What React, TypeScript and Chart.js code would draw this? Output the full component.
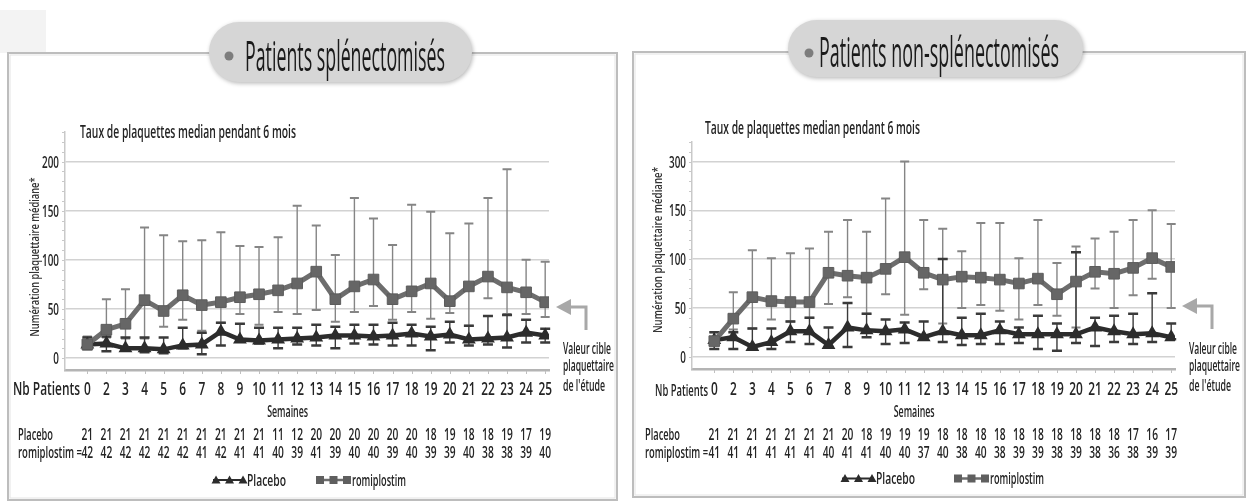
import React, { useEffect, useRef } from "react";
import { Chart, registerables } from "chart.js";
Chart.register(...registerables);

// ---------- DATA ----------
const WEEKS = ["0", "2", "3", "4", "5", "6", "7", "8", "9", "10", "11", "12", "13", "14", "15", "16", "17", "18", "19", "20", "21", "22", "23", "24", "25"];
const Y_TICKS = [0, 50, 100, 150, 200];
const LEFT_Y_LABELS = ["0", "50", "100", "150", "200"];
const RIGHT_Y_LABELS = ["0", "50", "100", "150", "300"];
const TARGET = 50;

// Patients splénectomisés
const SPL_ROMI = [14, 29, 35, 59, 48, 64, 54, 57, 62, 65, 69, 76, 88, 60, 73, 80, 60, 68, 76, 58, 73, 83, 72, 67, 57];
const SPL_ROMI_HI = [22, 60, 70, 133, 125, 119, 120, 128, 114, 113, 123, 155, 135, 105, 163, 142, 115, 156, 149, 127, 137, 163, 192, 100, 98];
const SPL_ROMI_LO = [10, 21, 20, 20, 32, 39, 28, 36, 45, 34, 47, 45, 49, 37, 47, 53, 39, 47, 40, 46, 33, 61, 45, 45, 42];
const SPL_PBO = [14, 15, 10, 10, 9, 13, 14, 27, 19, 18, 19, 20, 21, 23, 23, 22, 23, 25, 22, 24, 19, 20, 21, 26, 23];
const SPL_PBO_HI = [21, 22, 21, 21, 21, 31, 26, 36, 35, 31, 31, 31, 34, 32, 34, 34, 36, 34, 32, 37, 33, 43, 44, 39, 30];
const SPL_PBO_LO = [9, 7, 9, 6, 5, 10, 4, 13, 17, 15, 10, 14, 13, 10, 15, 14, 13, 13, 8, 16, 13, 14, 11, 16, 16];
const SPL_N_PBO = [21, 21, 21, 21, 21, 21, 21, 21, 21, 21, 11, 12, 20, 20, 20, 20, 20, 20, 18, 19, 18, 18, 19, 17, 19];
const SPL_N_ROMI = [42, 42, 42, 42, 42, 42, 41, 42, 41, 41, 40, 39, 41, 39, 40, 40, 39, 40, 39, 39, 40, 38, 38, 39, 40];

// Patients non-splénectomisés
const NSPL_ROMI = [16, 39, 61, 57, 56, 56, 86, 83, 81, 90, 102, 86, 79, 82, 81, 79, 75, 80, 64, 77, 87, 85, 91, 101, 92];
const NSPL_ROMI_HI = [25, 66, 109, 101, 106, 111, 128, 140, 128, 162, 200, 140, 131, 108, 137, 137, 101, 140, 96, 113, 121, 128, 140, 150, 136];
const NSPL_ROMI_LO = [8, 28, 29, 38, 36, 40, 54, 61, 44, 64, 43, 69, 34, 50, 53, 47, 38, 53, 42, 30, 70, 50, 63, 80, 50];
const NSPL_PBO = [17, 20, 10, 15, 26, 26, 12, 30, 27, 26, 28, 20, 26, 22, 22, 27, 23, 23, 23, 23, 30, 26, 23, 24, 20];
const NSPL_PBO_HI = [25, 25, 29, 29, 36, 40, 30, 55, 44, 38, 35, 36, 100, 40, 44, 36, 30, 42, 34, 107, 40, 42, 44, 65, 34];
const NSPL_PBO_LO = [8, 8, 8, 8, 15, 13, 10, 10, 20, 13, 14, 19, 15, 12, 13, 13, 14, 8, 6, 14, 11, 15, 13, 15, 18];
const NSPL_N_PBO = [21, 21, 21, 21, 21, 21, 21, 20, 18, 19, 19, 19, 18, 18, 18, 18, 18, 18, 18, 18, 18, 18, 17, 16, 17];
const NSPL_N_ROMI = [41, 41, 41, 41, 41, 41, 40, 41, 41, 40, 40, 37, 40, 38, 40, 38, 39, 39, 38, 39, 38, 36, 38, 39, 39];

// ---------- STYLE ----------
const FONT = '"Open Sans", "Noto Sans", "DejaVu Sans", sans-serif';
const TXT = "#242424";
const ROMI_COLOR = "#6d6d6d";
const PBO_COLOR = "#2c2c2c";
const X_MIN = -1.17;
const X_MAX = 24.2;
const H = 504;

type Align = "left" | "center" | "right";
function drawText(ctx: CanvasRenderingContext2D, s: string, x: number, y: number, size: number, o: { align?: Align; sx?: number; w?: number; color?: string; weight?: string } = {}) {
  ctx.save();
  ctx.font = `${o.weight || "600"} ${size}px ${FONT}`;
  ctx.textAlign = "left";
  ctx.textBaseline = "alphabetic";
  const m = ctx.measureText(s).width;
  const sx = o.w ? o.w / m : o.sx ?? 0.7;
  const w = m * sx;
  const x0 = o.align === "center" ? x - w / 2 : o.align === "right" ? x - w : x;
  ctx.translate(x0, y);
  ctx.scale(sx, 1);
  ctx.fillStyle = o.color || TXT;
  ctx.fillText(s, 0, 0);
  ctx.restore();
}

function roundRect(ctx: CanvasRenderingContext2D, x: number, y: number, w: number, h: number, r: number) {
  ctx.beginPath();
  ctx.moveTo(x + r, y);
  ctx.lineTo(x + w - r, y);
  ctx.arc(x + w - r, y + r, r, -Math.PI / 2, Math.PI / 2);
  ctx.lineTo(x + r, y + h);
  ctx.arc(x + r, y + r, r, Math.PI / 2, (3 * Math.PI) / 2);
  ctx.closePath();
}

const LEFT = {
  key: "spl",
  canvasW: 624,
  offsetX: 0,
  area: { left: 65, top: 132, right: 549, bottom: 370 },
  yMin: -12,
  yMax: 230,
  yLabels: LEFT_Y_LABELS,
  frame: { x1: 8, y1: 53, x2: 617, y2: 500 },
  shade: true,
  pill: { x: 209, y: 22, w: 263, h: 60, bulletX: 229, bulletY: 56, textX: 245, textW: 200, base: 71 },
  title: "Patients splénectomisés",
  sub: { x: 80, base: 138, w: 216 },
  yTitle: { cx: 35, cy: 257, len: 159 },
  nb: { x: 13, w: 67, base: 395, size: 18 },
  rowX: 18,
  romiLabelW: 64,
  legend: { pbo: 213, romi: 317, base: 485.5 },
  romi: SPL_ROMI, romiHi: SPL_ROMI_HI, romiLo: SPL_ROMI_LO,
  pbo: SPL_PBO, pboHi: SPL_PBO_HI, pboLo: SPL_PBO_LO,
  nPbo: SPL_N_PBO, nRomi: SPL_N_ROMI,
};

const RIGHT = {
  key: "nspl",
  canvasW: 623,
  offsetX: 624,
  area: { left: 68, top: 142, right: 551, bottom: 369 },
  yMin: -12.6,
  yMax: 220,
  yLabels: RIGHT_Y_LABELS,
  frame: { x1: 9, y1: 52, x2: 621, y2: 497 },
  shade: false,
  pill: { x: 164, y: 20, w: 295, h: 57, bulletX: 185, bulletY: 53, textX: 195, textW: 240, base: 67 },
  title: "Patients non-splénectomisés",
  sub: { x: 81, base: 134, w: 215 },
  yTitle: { cx: 34, cy: 250, len: 166 },
  nb: { x: 31, w: 53, base: 396, size: 16 },
  rowX: 21,
  romiLabelW: 63,
  legend: { pbo: 218, romi: 331, base: 484 },
  romi: NSPL_ROMI, romiHi: NSPL_ROMI_HI, romiLo: NSPL_ROMI_LO,
  pbo: NSPL_PBO, pboHi: NSPL_PBO_HI, pboLo: NSPL_PBO_LO,
  nPbo: NSPL_N_PBO, nRomi: NSPL_N_ROMI,
};

type Cfg = typeof LEFT;

function makePlugin(cfg: Cfg) {
  return {
    id: "deco_" + cfg.key,
    beforeDraw(chart: any) {
      const ctx: CanvasRenderingContext2D = chart.ctx;
      ctx.save();
      ctx.fillStyle = "#ffffff";
      ctx.fillRect(0, 0, chart.width, chart.height);
      if (cfg.shade) {
        ctx.fillStyle = "#f3f3f3";
        ctx.fillRect(0, 10, 46, 43);
      }
      const f = cfg.frame;
      ctx.strokeStyle = "#bdbdbd";
      ctx.lineWidth = 2;
      ctx.strokeRect(f.x1, f.y1, f.x2 - f.x1, f.y2 - f.y1);
      ctx.strokeStyle = "#e4e4e4";
      ctx.lineWidth = 1;
      ctx.strokeRect(f.x1 + 2, f.y1 + 2, f.x2 - f.x1 - 4, f.y2 - f.y1 - 4);
      ctx.restore();
    },
    beforeDatasetsDraw(chart: any) {
      const ctx: CanvasRenderingContext2D = chart.ctx;
      const xs = chart.scales.x;
      const ys = chart.scales.y;
      const bars = [
        { hi: cfg.romiHi, lo: cfg.romiLo, color: "#858585", lw: 1.4, cap: 4.5, capW: 2 },
        { hi: cfg.pboHi, lo: cfg.pboLo, color: "#3a3a3a", lw: 1.4, cap: 5, capW: 2.5 },
      ];
      ctx.save();
      for (const b of bars) {
        ctx.strokeStyle = b.color;
        for (let i = 0; i < WEEKS.length; i++) {
          const x = xs.getPixelForValue(i);
          const yh = ys.getPixelForValue(b.hi[i]);
          const yl = ys.getPixelForValue(b.lo[i]);
          ctx.lineWidth = b.lw;
          ctx.beginPath();
          ctx.moveTo(x, yh);
          ctx.lineTo(x, yl);
          ctx.stroke();
          ctx.lineWidth = b.capW;
          ctx.beginPath();
          ctx.moveTo(x - b.cap, yh);
          ctx.lineTo(x + b.cap, yh);
          ctx.moveTo(x - b.cap, yl);
          ctx.lineTo(x + b.cap, yl);
          ctx.stroke();
        }
      }
      ctx.restore();
    },
    afterDraw(chart: any) {
      const ctx: CanvasRenderingContext2D = chart.ctx;
      const xs = chart.scales.x;
      const ys = chart.scales.y;
      const A = chart.chartArea;
      ctx.save();

      // pill title
      const p = cfg.pill;
      ctx.save();
      ctx.shadowColor = "rgba(0,0,0,0.28)";
      ctx.shadowBlur = 4;
      ctx.shadowOffsetX = 1;
      ctx.shadowOffsetY = 1.5;
      roundRect(ctx, p.x, p.y, p.w, p.h, p.h / 2);
      ctx.fillStyle = "#d6d6d6";
      ctx.fill();
      ctx.restore();
      ctx.fillStyle = "#7d7d7d";
      ctx.beginPath();
      ctx.arc(p.bulletX, p.bulletY, 4.5, 0, Math.PI * 2);
      ctx.fill();
      drawText(ctx, cfg.title, p.textX, p.base, 42, { w: p.textW, color: "#1a1a1a", weight: "500" });

      // subtitle
      drawText(ctx, "Taux de plaquettes median pendant 6 mois", cfg.sub.x, cfg.sub.base, 18, { w: cfg.sub.w });

      // y minor ticks
      ctx.strokeStyle = "#c8c8c8";
      ctx.lineWidth = 1;
      for (let v = 0; v <= cfg.yMax; v += 10) {
        const y = Math.round(ys.getPixelForValue(v)) + 0.5;
        ctx.beginPath();
        ctx.moveTo(A.left - 3, y);
        ctx.lineTo(A.left, y);
        ctx.stroke();
      }
      // y tick labels
      Y_TICKS.forEach((v, i) => {
        const y = ys.getPixelForValue(v);
        drawText(ctx, cfg.yLabels[i], A.left - 6, y + 6, 17, { align: "right", sx: 0.58 });
      });
      // y title
      ctx.save();
      ctx.translate(cfg.yTitle.cx, cfg.yTitle.cy);
      ctx.rotate(-Math.PI / 2);
      drawText(ctx, "Numération plaquettaire médiane*", 0, 4, 12, { align: "center", w: cfg.yTitle.len, color: "#333333" });
      ctx.restore();

      // x tick marks and labels
      ctx.strokeStyle = "#c0c0c0";
      ctx.lineWidth = 1;
      WEEKS.forEach((w, i) => {
        const x = Math.round(xs.getPixelForValue(i)) + 0.5;
        ctx.beginPath();
        ctx.moveTo(x, A.bottom + 1);
        ctx.lineTo(x, A.bottom + 4);
        ctx.stroke();
        drawText(ctx, w, xs.getPixelForValue(i), 395, 18, { align: "center", sx: 0.66 });
      });
      drawText(ctx, "Nb Patients", cfg.nb.x, cfg.nb.base, cfg.nb.size, { w: cfg.nb.w });
      drawText(ctx, "Semaines", xs.getPixelForValue(10.5), 417, 16, { align: "center", w: 41 });

      // patient table
      drawText(ctx, "Placebo", cfg.rowX, 440, 17, { w: 35 });
      drawText(ctx, "romiplostim =", cfg.rowX, 458, 17, { w: cfg.romiLabelW });
      WEEKS.forEach((_, i) => {
        const x = xs.getPixelForValue(i);
        drawText(ctx, String(cfg.nPbo[i]), x, 440, 17, { align: "center", sx: 0.6 });
        drawText(ctx, String(cfg.nRomi[i]), x, 458, 17, { align: "center", sx: 0.6 });
      });

      // legend
      const L = cfg.legend;
      const ly = L.base - 5.5;
      ctx.strokeStyle = PBO_COLOR;
      ctx.lineWidth = 2;
      ctx.beginPath();
      ctx.moveTo(L.pbo, ly);
      ctx.lineTo(L.pbo + 32, ly);
      ctx.stroke();
      ctx.fillStyle = PBO_COLOR;
      [3, 16.5, 30].forEach((dx) => {
        const cx = L.pbo + dx;
        ctx.beginPath();
        ctx.moveTo(cx, ly - 4.5);
        ctx.lineTo(cx + 4.5, ly + 3.5);
        ctx.lineTo(cx - 4.5, ly + 3.5);
        ctx.closePath();
        ctx.fill();
      });
      drawText(ctx, "Placebo", L.pbo + 34, L.base, 16, { w: 39 });
      ctx.strokeStyle = ROMI_COLOR;
      ctx.lineWidth = 2.5;
      ctx.beginPath();
      ctx.moveTo(L.romi, ly);
      ctx.lineTo(L.romi + 32, ly);
      ctx.stroke();
      ctx.fillStyle = "#5f5f5f";
      [3, 16.5, 30].forEach((dx) => {
        ctx.fillRect(L.romi + dx - 4, ly - 4, 8, 8);
      });
      drawText(ctx, "romiplostim", L.romi + 35, L.base, 16, { w: 54 });

      // target annotation
      const ty = ys.getPixelForValue(TARGET) - 2;
      const tip = A.right + 7;
      const vx = A.right + 37;
      ctx.fillStyle = "#a8a8a8";
      ctx.strokeStyle = "#a8a8a8";
      ctx.beginPath();
      ctx.moveTo(tip, ty);
      ctx.lineTo(tip + 15, ty - 8);
      ctx.lineTo(tip + 15, ty + 8);
      ctx.closePath();
      ctx.fill();
      ctx.lineWidth = 3;
      ctx.beginPath();
      ctx.moveTo(tip + 14, ty);
      ctx.lineTo(vx, ty);
      ctx.lineTo(vx, ty + 23);
      ctx.stroke();
      const tx = A.right + 14;
      drawText(ctx, "Valeur cible", tx, 354, 16, { w: 48 });
      drawText(ctx, "plaquettaire", tx, 371, 16, { w: 51 });
      drawText(ctx, "de l'étude", tx, 391, 16, { w: 42 });

      ctx.restore();
    },
  };
}

function buildConfig(cfg: Cfg): any {
  const romi = cfg.romi.map((v, i) => ({ x: i, y: v }));
  const pbo = cfg.pbo.map((v, i) => ({ x: i, y: v }));
  return {
    type: "line",
    data: {
      datasets: [
        {
          label: "romiplostim",
          data: romi,
          borderColor: ROMI_COLOR,
          backgroundColor: "#666666",
          borderWidth: 5,
          pointStyle: "rect",
          pointRadius: 7.5,
          pointBackgroundColor: "#666666",
          pointBorderColor: "#5c5c5c",
          pointBorderWidth: 1,
          tension: 0,
          order: 0,
        },
        {
          label: "Placebo",
          data: pbo,
          borderColor: PBO_COLOR,
          backgroundColor: PBO_COLOR,
          borderWidth: 4.5,
          pointStyle: "triangle",
          pointRadius: 3.5,
          pointBackgroundColor: PBO_COLOR,
          pointBorderColor: PBO_COLOR,
          tension: 0,
          order: 1,
        },
      ],
    },
    options: {
      responsive: false,
      maintainAspectRatio: false,
      animation: false,
      events: [],
      layout: {
        autoPadding: false,
        padding: {
          left: 0,
          top: cfg.area.top,
          right: cfg.canvasW - cfg.area.right,
          bottom: H - cfg.area.bottom - 20,
        },
      },
      plugins: { legend: { display: false }, tooltip: { enabled: false }, title: { display: false } },
      scales: {
        x: {
          type: "linear",
          min: X_MIN,
          max: X_MAX,
          afterBuildTicks: (s: any) => {
            s.ticks = WEEKS.map((_, i) => ({ value: i }));
          },
          afterFit: (s: any) => {
            s.height = 20;
          },
          ticks: { display: false },
          grid: { display: false },
          border: { display: true, color: "#b4b4b4", width: 2.5 },
        },
        y: {
          type: "linear",
          min: cfg.yMin,
          max: cfg.yMax,
          afterBuildTicks: (s: any) => {
            s.ticks = Y_TICKS.map((v) => ({ value: v }));
          },
          afterFit: (s: any) => {
            s.width = cfg.area.left;
          },
          ticks: { display: false },
          grid: { color: "#d2d2d2", lineWidth: 1.5, drawTicks: false },
          border: { display: true, color: "#c9c9c9", width: 1.5 },
        },
      },
    },
    plugins: [makePlugin(cfg)],
  };
}

function Panel({ cfg }: { cfg: Cfg }) {
  const ref = useRef<HTMLCanvasElement>(null);
  useEffect(() => {
    const chart = new Chart(ref.current as HTMLCanvasElement, buildConfig(cfg));
    return () => chart.destroy();
  }, [cfg]);
  return (
    <canvas
      ref={ref}
      width={cfg.canvasW}
      height={H}
      style={{ position: "absolute", left: cfg.offsetX, top: 0, width: cfg.canvasW, height: H }}
    />
  );
}

export default function App() {
  return (
    <div style={{ position: "fixed", left: 0, top: 0, width: 1247, height: H, background: "#ffffff", overflow: "hidden" }}>
      <Panel cfg={LEFT} />
      <Panel cfg={RIGHT} />
    </div>
  );
}
